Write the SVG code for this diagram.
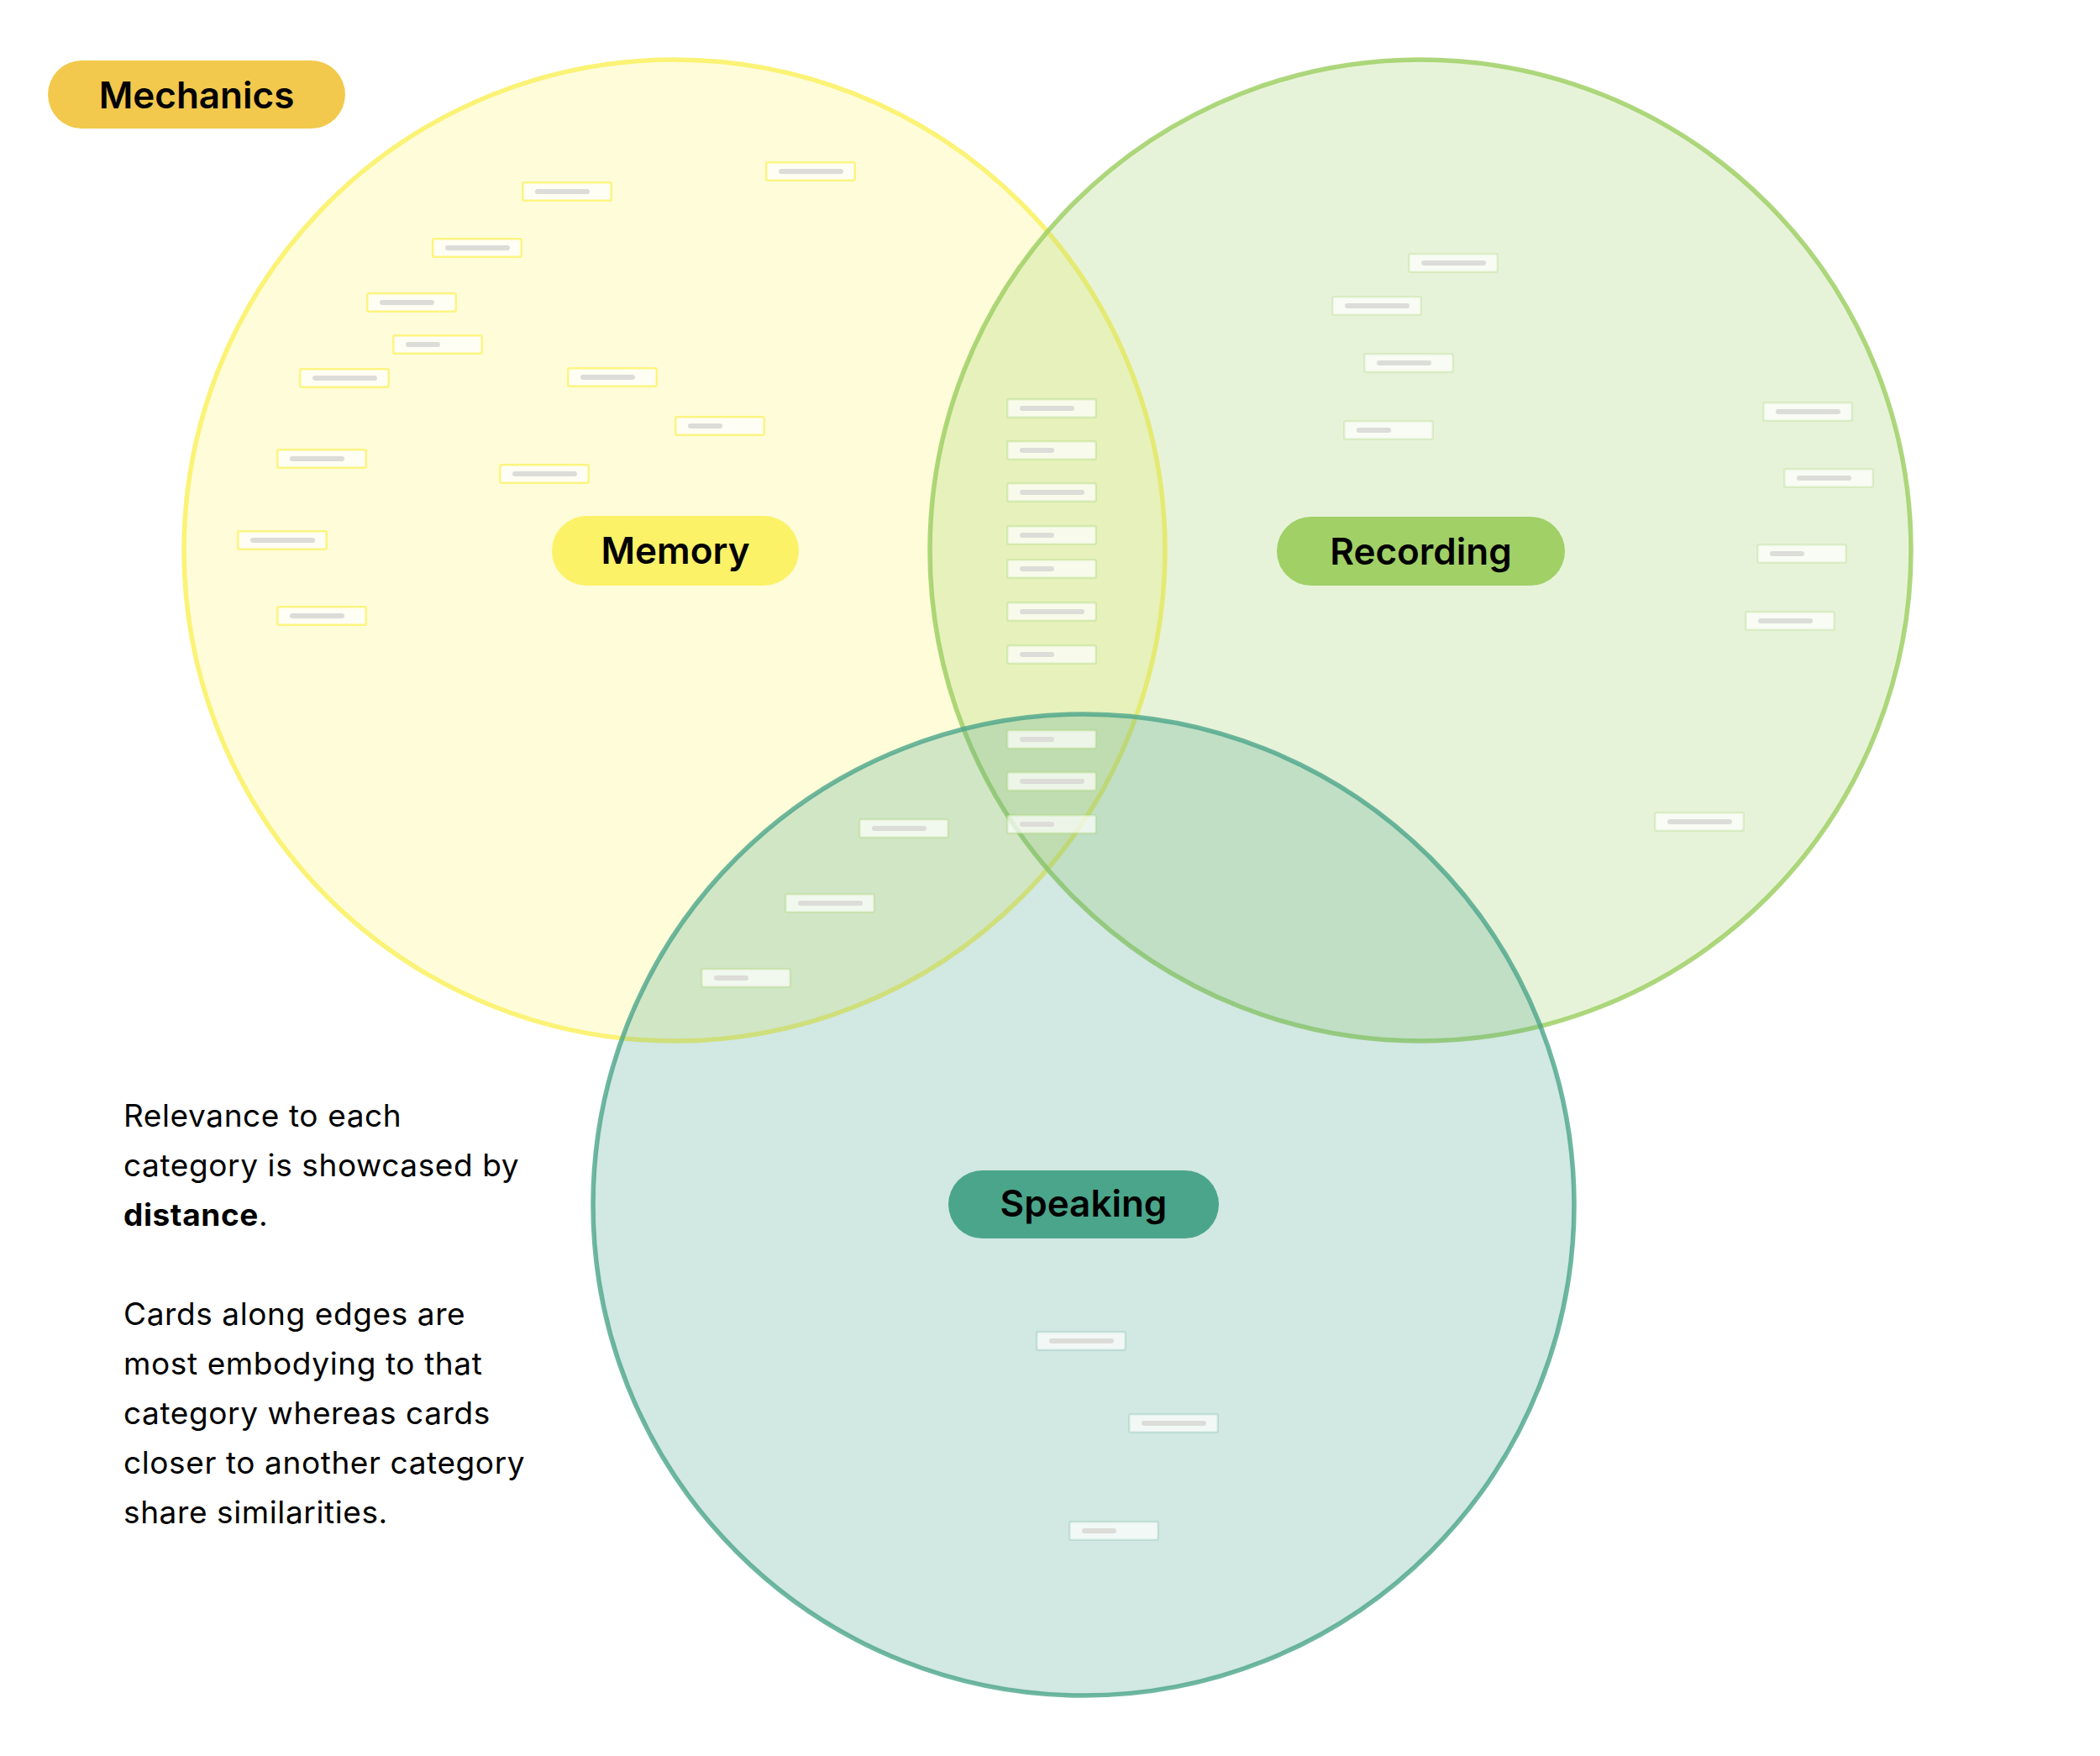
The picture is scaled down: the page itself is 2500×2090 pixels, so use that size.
<svg xmlns="http://www.w3.org/2000/svg" width="2500" height="2090" viewBox="0 0 2500 2090">
<style>
.circ{stroke-width:5.5}
.c-mem{fill:#FBF268;fill-opacity:.25;stroke:#FBF268;stroke-opacity:.9}
.c-rec{fill:#A0D066;fill-opacity:.25;stroke:#A0D066;stroke-opacity:.85}
.c-spk{fill:#4BA58A;fill-opacity:.25;stroke:#4BA58A;stroke-opacity:.8}
.card{fill:#FFFFFF;fill-opacity:.7;stroke-width:2.5}
.mem .card{stroke:#FBF268;stroke-opacity:.8}
.rec .card{stroke:#A0D066;stroke-opacity:.25}
.mix .card{stroke:#A0D066;stroke-opacity:.3}
.spk .card{stroke:#4BA58A;stroke-opacity:.2}
.bar{fill:#DCDCD8}
.pill-t{font-family:Inter,"Noto Sans",sans-serif;font-weight:600;font-size:44px;fill:#000;text-anchor:middle}
.para{font-family:Inter,"Noto Sans",sans-serif;font-size:37px;fill:#000;letter-spacing:0.6px}
</style>
<rect width="2500" height="2090" fill="#FFFFFF"/>

<g id="circles">
  <circle id="circle-memory" class="circ c-mem" cx="803" cy="655" r="584"/>
  <circle id="circle-recording" class="circ c-rec" cx="1691" cy="655" r="584"/>
  <circle id="circle-speaking" class="circ c-spk" cx="1290" cy="1434" r="584"/>
</g>

<g id="connectors"/>

<g id="cards-memory" class="mem">
  <g id="m1" transform="translate(621,216)"><rect class="card" x="1.25" y="1.25" width="105.5" height="21.5" rx="2"/><rect class="bar" x="16" y="9" width="65" height="6" rx="3"/></g>
  <g id="m2" transform="translate(911,192)"><rect class="card" x="1.25" y="1.25" width="105.5" height="21.5" rx="2"/><rect class="bar" x="16" y="9" width="77" height="6" rx="3"/></g>
  <g id="m3" transform="translate(514,283)"><rect class="card" x="1.25" y="1.25" width="105.5" height="21.5" rx="2"/><rect class="bar" x="16" y="9" width="77" height="6" rx="3"/></g>
  <g id="m4" transform="translate(436,348)"><rect class="card" x="1.25" y="1.25" width="105.5" height="21.5" rx="2"/><rect class="bar" x="16" y="9" width="65" height="6" rx="3"/></g>
  <g id="m5" transform="translate(467,398)"><rect class="card" x="1.25" y="1.25" width="105.5" height="21.5" rx="2"/><rect class="bar" x="16" y="9" width="41" height="6" rx="3"/></g>
  <g id="m6" transform="translate(356,438)"><rect class="card" x="1.25" y="1.25" width="105.5" height="21.5" rx="2"/><rect class="bar" x="16" y="9" width="77" height="6" rx="3"/></g>
  <g id="m7" transform="translate(675,437)"><rect class="card" x="1.25" y="1.25" width="105.5" height="21.5" rx="2"/><rect class="bar" x="16" y="9" width="65" height="6" rx="3"/></g>
  <g id="m8" transform="translate(803,495)"><rect class="card" x="1.25" y="1.25" width="105.5" height="21.5" rx="2"/><rect class="bar" x="16" y="9" width="41" height="6" rx="3"/></g>
  <g id="m9" transform="translate(329,534)"><rect class="card" x="1.25" y="1.25" width="105.5" height="21.5" rx="2"/><rect class="bar" x="16" y="9" width="65" height="6" rx="3"/></g>
  <g id="m10" transform="translate(594,552)"><rect class="card" x="1.25" y="1.25" width="105.5" height="21.5" rx="2"/><rect class="bar" x="16" y="9" width="77" height="6" rx="3"/></g>
  <g id="m11" transform="translate(282,631)"><rect class="card" x="1.25" y="1.25" width="105.5" height="21.5" rx="2"/><rect class="bar" x="16" y="9" width="77" height="6" rx="3"/></g>
  <g id="m12" transform="translate(329,721)"><rect class="card" x="1.25" y="1.25" width="105.5" height="21.5" rx="2"/><rect class="bar" x="16" y="9" width="65" height="6" rx="3"/></g>
</g>

<g id="cards-center" class="mix">
  <g id="c1" transform="translate(1198,474)"><rect class="card" x="1.25" y="1.25" width="105.5" height="21.5" rx="2"/><rect class="bar" x="16" y="9" width="65" height="6" rx="3"/></g>
  <g id="c2" transform="translate(1198,524)"><rect class="card" x="1.25" y="1.25" width="105.5" height="21.5" rx="2"/><rect class="bar" x="16" y="9" width="41" height="6" rx="3"/></g>
  <g id="c3" transform="translate(1198,574)"><rect class="card" x="1.25" y="1.25" width="105.5" height="21.5" rx="2"/><rect class="bar" x="16" y="9" width="77" height="6" rx="3"/></g>
  <g id="c4" transform="translate(1198,625)"><rect class="card" x="1.25" y="1.25" width="105.5" height="21.5" rx="2"/><rect class="bar" x="16" y="9" width="41" height="6" rx="3"/></g>
  <g id="c5" transform="translate(1198,665)"><rect class="card" x="1.25" y="1.25" width="105.5" height="21.5" rx="2"/><rect class="bar" x="16" y="9" width="41" height="6" rx="3"/></g>
  <g id="c6" transform="translate(1198,716)"><rect class="card" x="1.25" y="1.25" width="105.5" height="21.5" rx="2"/><rect class="bar" x="16" y="9" width="77" height="6" rx="3"/></g>
  <g id="c7" transform="translate(1198,767)"><rect class="card" x="1.25" y="1.25" width="105.5" height="21.5" rx="2"/><rect class="bar" x="16" y="9" width="41" height="6" rx="3"/></g>
  <g id="c8" transform="translate(1198,868)"><rect class="card" x="1.25" y="1.25" width="105.5" height="21.5" rx="2"/><rect class="bar" x="16" y="9" width="41" height="6" rx="3"/></g>
  <g id="c9" transform="translate(1198,918)"><rect class="card" x="1.25" y="1.25" width="105.5" height="21.5" rx="2"/><rect class="bar" x="16" y="9" width="77" height="6" rx="3"/></g>
  <g id="c10" transform="translate(1198,969)"><rect class="card" x="1.25" y="1.25" width="105.5" height="21.5" rx="2"/><rect class="bar" x="16" y="9" width="41" height="6" rx="3"/></g>
  <g id="s1" transform="translate(1022,974)"><rect class="card" x="1.25" y="1.25" width="105.5" height="21.5" rx="2"/><rect class="bar" x="16" y="9" width="65" height="6" rx="3"/></g>
  <g id="s2" transform="translate(934,1063)"><rect class="card" x="1.25" y="1.25" width="105.5" height="21.5" rx="2"/><rect class="bar" x="16" y="9" width="77" height="6" rx="3"/></g>
  <g id="s3" transform="translate(834,1152)"><rect class="card" x="1.25" y="1.25" width="105.5" height="21.5" rx="2"/><rect class="bar" x="16" y="9" width="41" height="6" rx="3"/></g>
</g>

<g id="cards-recording" class="rec">
  <g id="r1" transform="translate(1676,301)"><rect class="card" x="1.25" y="1.25" width="105.5" height="21.5" rx="2"/><rect class="bar" x="16" y="9" width="77" height="6" rx="3"/></g>
  <g id="r2" transform="translate(1585,352)"><rect class="card" x="1.25" y="1.25" width="105.5" height="21.5" rx="2"/><rect class="bar" x="16" y="9" width="77" height="6" rx="3"/></g>
  <g id="r3" transform="translate(1623,420)"><rect class="card" x="1.25" y="1.25" width="105.5" height="21.5" rx="2"/><rect class="bar" x="16" y="9" width="65" height="6" rx="3"/></g>
  <g id="r4" transform="translate(1599,500)"><rect class="card" x="1.25" y="1.25" width="105.5" height="21.5" rx="2"/><rect class="bar" x="16" y="9" width="41" height="6" rx="3"/></g>
  <g id="r5" transform="translate(2098,478)"><rect class="card" x="1.25" y="1.25" width="105.5" height="21.5" rx="2"/><rect class="bar" x="16" y="9" width="77" height="6" rx="3"/></g>
  <g id="r6" transform="translate(2123,557)"><rect class="card" x="1.25" y="1.25" width="105.5" height="21.5" rx="2"/><rect class="bar" x="16" y="9" width="65" height="6" rx="3"/></g>
  <g id="r7" transform="translate(2091,647)"><rect class="card" x="1.25" y="1.25" width="105.5" height="21.5" rx="2"/><rect class="bar" x="16" y="9" width="41" height="6" rx="3"/></g>
  <g id="r8" transform="translate(2077,727)"><rect class="card" x="1.25" y="1.25" width="105.5" height="21.5" rx="2"/><rect class="bar" x="16" y="9" width="65" height="6" rx="3"/></g>
  <g id="r9" transform="translate(1969,966)"><rect class="card" x="1.25" y="1.25" width="105.5" height="21.5" rx="2"/><rect class="bar" x="16" y="9" width="77" height="6" rx="3"/></g>
</g>

<g id="cards-speaking" class="spk">
  <g id="s4" transform="translate(1233,1584)"><rect class="card" x="1.25" y="1.25" width="105.5" height="21.5" rx="2"/><rect class="bar" x="16" y="9" width="77" height="6" rx="3"/></g>
  <g id="s5" transform="translate(1343,1682)"><rect class="card" x="1.25" y="1.25" width="105.5" height="21.5" rx="2"/><rect class="bar" x="16" y="9" width="77" height="6" rx="3"/></g>
  <g id="s6" transform="translate(1272,1810)"><rect class="card" x="1.25" y="1.25" width="105.5" height="21.5" rx="2"/><rect class="bar" x="16" y="9" width="41" height="6" rx="3"/></g>
</g>

<g id="node-mechanics">
  <rect x="57" y="72" width="354" height="81" rx="40.5" fill="#F2C94C"/>
  <text class="pill-t" x="234" y="129">Mechanics</text>
</g>
<g id="node-memory">
  <rect x="657" y="614" width="294" height="83" rx="41.5" fill="#FBF268"/>
  <text class="pill-t" x="804" y="671">Memory</text>
</g>
<g id="node-recording">
  <rect x="1520" y="615" width="343" height="82" rx="41" fill="#A0D066"/>
  <text class="pill-t" x="1691.5" y="672">Recording</text>
</g>
<g id="node-speaking">
  <rect x="1129" y="1393" width="322" height="81" rx="40.5" fill="#4BA58A"/>
  <text class="pill-t" x="1290" y="1448">Speaking</text>
</g>

<g id="note">
  <text class="para" x="147" y="1341">Relevance to each</text>
  <text class="para" x="147" y="1400">category is showcased by</text>
  <text class="para" x="147" y="1459"><tspan font-weight="700">distance</tspan>.</text>
  <text class="para" x="147" y="1577">Cards along edges are</text>
  <text class="para" x="147" y="1636">most embodying to that</text>
  <text class="para" x="147" y="1695">category whereas cards</text>
  <text class="para" x="147" y="1754">closer to another category</text>
  <text class="para" x="147" y="1813">share similarities.</text>
</g>
</svg>
